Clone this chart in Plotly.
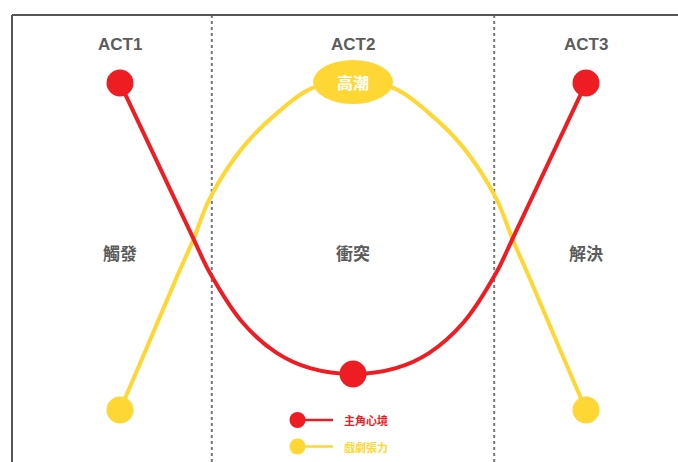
import plotly.graph_objects as go

# story progress (0-100) and intensity (0-100)
red_x = [0, 7.9, 15.7, 19.3, 26.4, 33.7, 40.8, 50, 59.2, 66.3, 73.6, 80.7, 84.3, 92.1, 100]
red_y = [100, 76.1, 52.6, 41.9, 26.6, 17.4, 12.8, 11.0, 12.8, 17.4, 26.6, 41.9, 52.6, 76.1, 100]
red_key = [0, 7, 14]

yel_x = [0, 4.9, 12.2, 15.7, 19.3, 26.4, 33.7, 41.4, 50, 58.6, 66.3, 73.6, 80.7, 84.3, 87.8, 95.1, 100]
yel_y = [0, 16.2, 40.7, 52.0, 64.8, 80.4, 90.8, 98.5, 100, 98.5, 90.8, 80.4, 64.8, 52.0, 40.7, 16.2, 0]
yel_key = [0, 16]
peak_idx = 8

act_centers = [0, 50, 100]
act_labels = ["ACT1", "ACT2", "ACT3"]
phase_labels = ["觸發", "衝突", "解決"]
act_bounds = [19.7, 80.3]
legend_names = ["主角心境", "戲劇張力"]
peak_label = "高潮"

RED = "#EE1D23"
YEL = "#FFD735"
GRAY = "#5c5c5c"
LATIN = "Helvetica, Arial, 'Liberation Sans', 'Noto Sans CJK TC', sans-serif"
CJK = "'Noto Sans CJK TC', 'Noto Sans CJK SC', sans-serif"

W, H = 678, 462

fig = go.Figure()
for xs, ys, keys, col in [(yel_x, yel_y, yel_key, YEL), (red_x, red_y, red_key, RED)]:
    fig.add_trace(go.Scatter(
        x=xs, y=ys, mode="lines",
        line=dict(color=col, width=4, shape="spline", smoothing=1.0),
        hoverinfo="skip", showlegend=False))
for xs, ys, keys, col in [(yel_x, yel_y, yel_key, YEL), (red_x, red_y, red_key, RED)]:
    fig.add_trace(go.Scatter(
        x=[xs[i] for i in keys], y=[ys[i] for i in keys], mode="markers",
        marker=dict(color=col, size=27, opacity=1, line=dict(width=0)),
        hoverinfo="skip", showlegend=False))

# act boundaries (dotted)
for b in act_bounds:
    fig.add_shape(type="line", xref="x", yref="paper", x0=b, x1=b, y0=0, y1=1 - 15 / H,
                  line=dict(color="#777777", width=2, dash="dot"), layer="below")

# frame: top and left borders
fig.add_shape(type="line", xref="paper", yref="paper", x0=12 / W, x1=1, y0=1 - 15 / H, y1=1 - 15 / H,
              line=dict(color="#555555", width=2))
fig.add_shape(type="line", xref="paper", yref="paper", x0=12 / W, x1=12 / W, y0=0, y1=1 - 15 / H,
              line=dict(color="#555555", width=2))

# climax ellipse
fig.add_shape(type="circle", xref="x", yref="y", xsizemode="pixel", ysizemode="pixel",
              xanchor=yel_x[peak_idx], yanchor=yel_y[peak_idx],
              x0=-40, x1=40, y0=-21, y1=23,
              fillcolor=YEL, line=dict(width=0), layer="above")
fig.add_annotation(x=yel_x[peak_idx], y=yel_y[peak_idx], text="<b>" + peak_label + "</b>",
                   showarrow=False, yshift=1, font=dict(family=CJK, size=16, color="white"))

for cx, a, p in zip(act_centers, act_labels, phase_labels):
    fig.add_annotation(x=cx, y=111.9, text="<b>" + a + "</b>", showarrow=False,
                       font=dict(family=LATIN, size=17, color=GRAY))
    fig.add_annotation(x=cx, y=48.3, text="<b>" + p + "</b>", showarrow=False,
                       font=dict(family=CJK, size=17, color=GRAY))

# custom legend
for i, (name, col) in enumerate(zip(legend_names, [RED, YEL])):
    py = 1 - (420 + 26.5 * i) / H
    fig.add_shape(type="line", xref="paper", yref="paper", x0=297 / W, x1=333 / W, y0=py, y1=py,
                  line=dict(color=col, width=2.5))
    fig.add_shape(type="circle", xref="paper", yref="paper", xsizemode="pixel", ysizemode="pixel",
                  xanchor=297.5 / W, yanchor=py, x0=-8, x1=8, y0=-8, y1=8,
                  fillcolor=col, line=dict(width=0))
    fig.add_annotation(xref="paper", yref="paper", x=342 / W, y=py, xanchor="left",
                       yanchor="middle",
                       text="<b>" + name + "</b>", showarrow=False,
                       font=dict(family=CJK, size=11, color=col))

fig.update_layout(
    width=W, height=H, autosize=False,
    margin=dict(l=0, r=0, t=0, b=0),
    paper_bgcolor="white", plot_bgcolor="white",
    xaxis=dict(range=[-25.75, 119.74], visible=False, fixedrange=True),
    yaxis=dict(range=[-15.9, 125.4], visible=False, fixedrange=True),
    showlegend=False,
)

fig.write_html("out.html", config={"displayModeBar": False},
               post_script="document.body.style.margin='0';document.body.style.overflow='hidden';")
